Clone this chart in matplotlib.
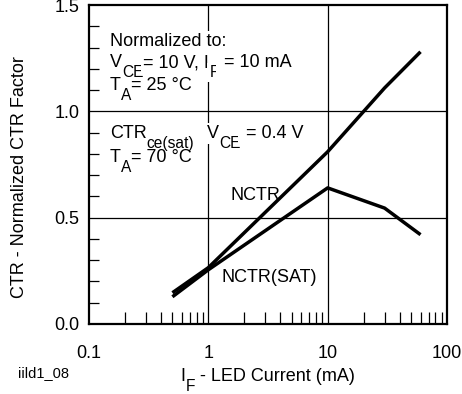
import numpy as np
import matplotlib
matplotlib.use("Agg")
import matplotlib.pyplot as plt
from matplotlib.ticker import LogLocator, MultipleLocator, NullFormatter, FixedLocator
from matplotlib.transforms import offset_copy

plt.rcParams["font.family"] = ["Liberation Sans", "DejaVu Sans"]

# data
if_nctr = [0.5, 1, 10, 30, 60]
nctr = [0.147, 0.265, 0.81, 1.11, 1.28]
if_sat = [0.5, 1, 10, 30, 60]
nctr_sat = [0.128, 0.255, 0.64, 0.545, 0.42]

x_ticks = [0.1, 1, 10, 100]
x_ticklabels = ["0.1", "1", "10", "100"]
y_ticks = [0.0, 0.5, 1.0, 1.5]
y_ticklabels = ["0.0", "0.5", "1.0", "1.5"]

fig = plt.figure(figsize=(4.62, 3.94), dpi=100)
ax = fig.add_axes([89 / 462, 70 / 394, 358 / 462, 319 / 394])
renderer = fig.canvas.get_renderer()

ax.set_xscale("log")
ax.set_xlim(0.1, 100)
ax.set_ylim(0, 1.5)

# grid lines at 1, 10 and 0.5, 1.0
for gx in [1, 10]:
    ax.axvline(gx, color="black", lw=0.9, zorder=1)
for gy in [0.5, 1.0]:
    ax.axhline(gy, color="black", lw=0.9, zorder=1)

ax.plot(if_nctr, nctr, color="black", lw=2.5, solid_capstyle="butt", zorder=3)
ax.plot(if_sat, nctr_sat, color="black", lw=2.5, solid_capstyle="butt", zorder=3)

ax.xaxis.set_major_locator(FixedLocator(x_ticks))
ax.set_xticklabels(x_ticklabels)
ax.xaxis.set_minor_locator(LogLocator(base=10, subs=np.arange(2, 10)))
ax.xaxis.set_minor_formatter(NullFormatter())
ax.yaxis.set_major_locator(FixedLocator(y_ticks))
ax.set_yticklabels(y_ticklabels)
ax.yaxis.set_minor_locator(MultipleLocator(0.1))

ax.tick_params(axis="x", which="major", length=0, pad=15, labelsize=13)
ax.tick_params(axis="x", which="minor", direction="in", length=9, width=0.9)
ax.tick_params(axis="y", which="major", length=0, pad=7, labelsize=13)
ax.tick_params(axis="y", which="minor", direction="in", length=7.5, width=0.9)

for s in ax.spines.values():
    s.set_linewidth(1.6)

SUB = 0.86     # subscript size factor
DROP = 7.2     # subscript drop, points


def rich(x, y, parts, fs=13, trans=None, white=False):
    # parts: list of (text, is_subscript); draws pieces one after another
    if trans is None:
        trans = ax.transAxes
    dx = 0.0
    for txt, sub in parts:
        size = fs * SUB if sub else fs
        dy = -DROP if sub else 0
        t = offset_copy(trans, fig=fig, x=dx, y=dy, units="points")
        kw = dict(transform=t, fontsize=size, va="baseline", ha="left", zorder=2)
        if white:
            kw["bbox"] = dict(facecolor="white", edgecolor="none", pad=1.5)
        obj = (ax.text if trans is not fig.transFigure else fig.text)(x, y, txt, **kw)
        w = obj.get_window_extent(renderer=renderer).width
        dx += w * 72 / fig.dpi
    return dx


fs = 13
ax.text(0.0587, 0.8715, "Normalized to:", transform=ax.transAxes, fontsize=fs, va="baseline",
        bbox=dict(facecolor="white", edgecolor="none", pad=1.5), zorder=2)
rich(0.0587, 0.8056, [("V", False), ("CE", True), ("= 10 V, I", False), ("F", True), (" = 10 mA", False)], white=True)
rich(0.0587, 0.7335, [("T", False), ("A", True), ("= 25 °C", False)])
rich(0.0587, 0.583, [("CTR", False), ("ce(sat)", True)])
rich(0.33, 0.583, [("V", False), ("CE", True), (" = 0.4 V", False)], white=True)
rich(0.0587, 0.508, [("T", False), ("A", True), ("= 70 °C", False)])
ax.text(0.394, 0.389, "NCTR", transform=ax.transAxes, fontsize=fs, va="baseline", zorder=2)
ax.text(0.369, 0.1317, "NCTR(SAT)", transform=ax.transAxes, fontsize=fs, va="baseline", zorder=2)

# x label, built from pieces and centred on the axes
xl_parts = [("I", False), ("F", True), (" - LED Current (mA)", False)]
tmp = fig.text(0, 0, "I", fontsize=13)
w_total = 0
for txt, sub in xl_parts:
    tmp.set_text(txt)
    tmp.set_fontsize(13 * SUB if sub else 13)
    w_total += tmp.get_window_extent(renderer=renderer).width
tmp.remove()
x0 = 268 - w_total / 2
rich(x0 / 462, 1 - 381 / 394, xl_parts, trans=fig.transFigure)

fig.text(20 / 462, 1 - 177 / 394, "CTR - Normalized CTR Factor", fontsize=13, rotation=90, ha="center", va="center")
fig.text(18 / 462, 1 - 373 / 394, "iild1_08", fontsize=10.5, ha="left", va="center")

fig.savefig("out.png", dpi=100)
